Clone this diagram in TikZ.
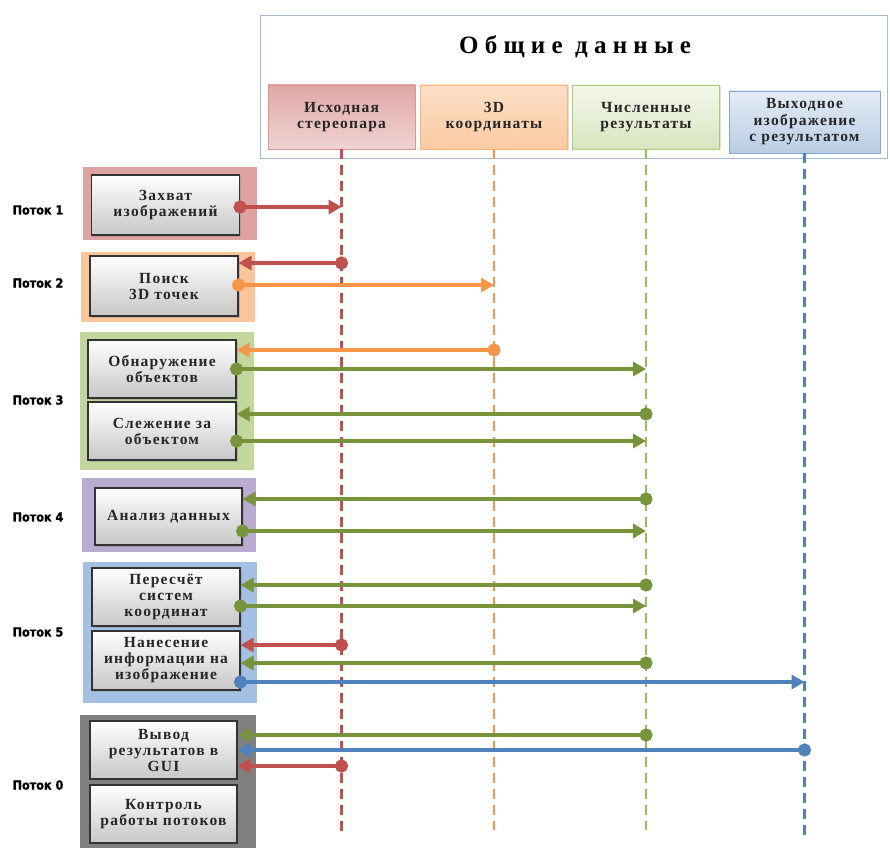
\documentclass[tikz,border=0pt]{standalone}
\usepackage{fontspec}
\setmainfont{Liberation Serif}
\newfontfamily\lanefont{DejaVu Sans Condensed}[BoldFeatures={FakeBold=1.5}]
\newfontfamily\titlefont{Liberation Serif}[LetterSpace=25]
\newfontfamily\boxfont{Liberation Serif}[LetterSpace=8]
\usetikzlibrary{arrows.meta, shadows}
\definecolor{xRed}{RGB}{192,80,77}
\definecolor{xOrange}{RGB}{247,150,70}
\definecolor{xGreen}{RGB}{119,147,60}
\definecolor{xLime}{RGB}{155,187,89}
\definecolor{xBlue}{RGB}{79,129,189}
\definecolor{xFrame}{RGB}{166,185,209}
\definecolor{xLaneA}{RGB}{221,163,162}
\definecolor{xLaneB}{RGB}{251,197,154}
\definecolor{xLaneC}{RGB}{195,214,155}
\definecolor{xLaneD}{RGB}{185,172,208}
\definecolor{xLaneE}{RGB}{164,193,228}
\definecolor{xLaneF}{RGB}{127,127,127}
\tikzset{
  frame/.style={draw=xFrame, line width=0.8pt, minimum width=627pt, minimum height=143pt, inner sep=0pt},
  head/.style={line width=0.8pt, align=center, text=black!85, inner sep=2pt,
               font=\boxfont\bfseries\fontsize{15.5}{16.5}\selectfont, minimum width=147pt, minimum height=64pt,
               drop shadow={opacity=0.25, shadow xshift=1pt, shadow yshift=-1.5pt}},
  task/.style={draw=black!80, line width=1.1pt, align=center, text=black!85, inner sep=2pt,
               top color=white, bottom color=black!22, minimum width=148pt, minimum height=58pt,
               font=\boxfont\bfseries\fontsize{15.5}{16}\selectfont,
               drop shadow={opacity=0.35, shadow xshift=1.5pt, shadow yshift=-1.5pt}},
  lane/.style={minimum width=174pt, inner sep=0pt},
  lname/.style={font=\lanefont\bfseries\fontsize{12.5}{14}\selectfont},
  life/.style={line width=2.2pt, dash pattern=on 10pt off 6pt},
  flow/.style={line width=4.2pt, {Circle[length=13pt]}-{Triangle[length=13pt,width=14pt]}, shorten <=-6.5pt},
}
\newcommand{\flowline}[4]{\draw[flow, #1] (#2 |- 0,#4) -- (#3 |- 0,#4);}
\begin{document}
\begin{tikzpicture}[x=1pt, y=-1pt]
  \useasboundingbox (0,0) rectangle (890,853);
  \node[frame] (common) at (573.5,86.5) {};
  \node[font=\titlefont\bfseries\fontsize{25}{28}\selectfont] (title) at (575,47) {Общие данные};
  \node[head, draw=xRed!60, top color=xRed!50, bottom color=xRed!25] (src) at (341.5,117) {Исходная\\стереопара};
  \node[head, draw=xOrange!70, top color=xOrange!30, bottom color=xOrange!50] (crd) at (494,117) {3D\\координаты};
  \node[head, draw=xLime!80, top color=xLime!12, bottom color=xLime!38] (num) at (646,117) {Численные\\результаты};
  \node[head, draw=xBlue!70, top color=xBlue!15, bottom color=xBlue!40, minimum width=151pt, minimum height=62pt] (out) at (804.5,122) {Выходное\\изображение\\с результатом};

  \coordinate (eR) at (src.south |- 0,832);
  \coordinate (eO) at (crd.south |- 0,830);
  \coordinate (eG) at (num.south |- 0,830);
  \coordinate (eB) at (out.south |- 0,835);
  \draw[life, xRed] (src.south) -- (eR);
  \draw[life, xOrange] (crd.south) -- (eO);
  \draw[life, xLime] (num.south) -- (eG);
  \draw[life, xBlue] (out.south) -- (eB);

  \node[lane, fill=xLaneA, minimum height=73pt] (th1) at (170,203.5) {};
  \node[lane, fill=xLaneB, minimum height=70pt] (th2) at (167.5,287) {};
  \node[lane, fill=xLaneC, minimum height=138pt] (th3) at (167,401) {};
  \node[lane, fill=xLaneD, minimum height=74pt] (th4) at (169,515) {};
  \node[lane, fill=xLaneE, minimum height=141pt] (th5) at (169.5,632.5) {};
  \node[lane, fill=xLaneF, minimum height=133pt, minimum width=176pt] (th0) at (168,781.5) {};

  \node[lname] (n1) at (38,210) {Поток 1};
  \node[lname] (n2) at (38,283) {Поток 2};
  \node[lname] (n3) at (38,400) {Поток 3};
  \node[lname] (n4) at (38,517) {Поток 4};
  \node[lname] (n5) at (38,632) {Поток 5};
  \node[lname] (n0) at (38,785) {Поток 0};

  \node[task, minimum height=60pt] (cap) at (165.5,205) {Захват\\изображений};
  \node[task, minimum height=60pt] (srch) at (164,286) {Поиск\\3D точек};
  \node[task] (det) at (162,369) {Обнаружение\\объектов};
  \node[task] (trk) at (162,431) {Слежение за\\объектом};
  \node[task, minimum height=57pt, minimum width=147pt] (ana) at (168.5,516.5) {Анализ данных};
  \node[task] (conv) at (166,597) {Пересчёт\\систем\\координат};
  \node[task, minimum height=59pt] (ovl) at (166,660.5) {Нанесение\\информации на\\изображение};
  \node[task, minimum width=147pt] (gui) at (163.5,750) {Вывод\\результатов в\\GUI};
  \node[task, minimum width=147pt] (ctl) at (163.5,814) {Контроль\\работы потоков};

  \flowline{xRed}{cap.east}{eR}{207}
  \flowline{xRed}{eR}{srch.east}{263}
  \flowline{xOrange}{srch.east}{eO}{285}
  \flowline{xOrange}{eO}{det.east}{350}
  \flowline{xGreen}{det.east}{eG}{369}
  \flowline{xGreen}{eG}{trk.east}{414}
  \flowline{xGreen}{trk.east}{eG}{441}
  \flowline{xGreen}{eG}{ana.east}{499}
  \flowline{xGreen}{ana.east}{eG}{531}
  \flowline{xGreen}{eG}{conv.east}{585}
  \flowline{xGreen}{conv.east}{eG}{606}
  \flowline{xRed}{eR}{ovl.east}{645}
  \flowline{xGreen}{eG}{ovl.east}{663}
  \flowline{xBlue}{ovl.east}{eB}{682}
  \flowline{xGreen}{eG}{gui.east}{735}
  \flowline{xBlue}{eB}{gui.east}{750}
  \flowline{xRed}{eR}{gui.east}{766}
\end{tikzpicture}
\end{document}
